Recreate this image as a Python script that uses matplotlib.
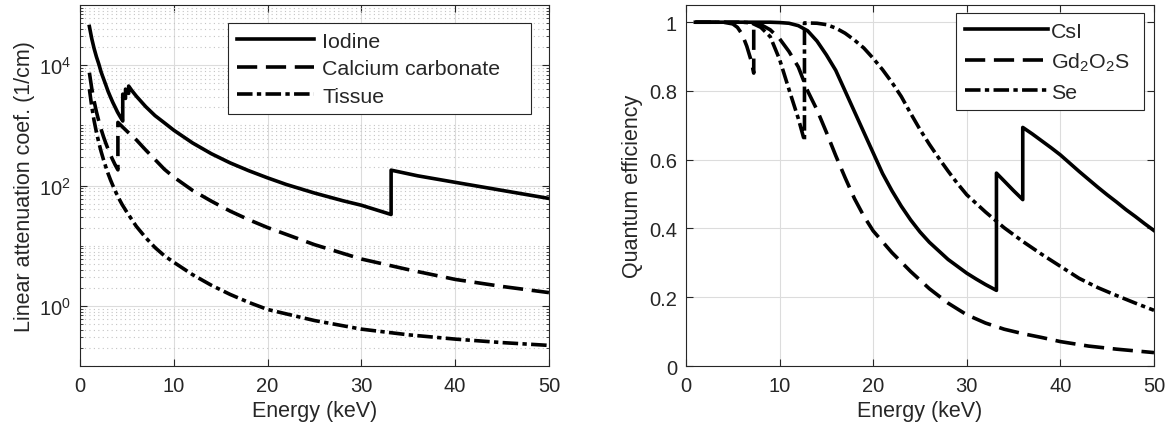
import numpy as np
import matplotlib
matplotlib.use('Agg')
import matplotlib.pyplot as plt
from matplotlib.ticker import FixedLocator, FuncFormatter, NullFormatter

plt.rcParams['font.family'] = ['Liberation Sans', 'DejaVu Sans']
plt.rcParams['mathtext.fontset'] = 'custom'
plt.rcParams['mathtext.rm'] = 'Liberation Sans'
plt.rcParams['mathtext.it'] = 'Liberation Sans'

# ---- left panel: linear attenuation coefficient (1/cm) ----
e_iodine = [1, 1.25, 1.5, 1.75, 2, 2.25, 2.5, 2.75, 3, 3.25, 3.5, 3.75, 4, 4.25,
            4.557, 4.557, 4.852, 4.852, 5.188, 5.188, 5.5, 6, 7, 8, 9, 10, 12,
            14, 16, 18, 20, 22, 25, 28, 30, 33.17, 33.17, 36, 40, 45, 50]
mu_iodine = [44000, 27700, 19000, 13800, 10500, 7700, 6000, 4700, 3650, 2950,
             2400, 2000, 1660, 1420, 1180, 3300, 2800, 4000, 3400, 4500, 3840,
             3060, 2050, 1450, 1100, 830, 510, 338, 238, 176, 134, 104, 75, 56,
             47, 33, 180, 145, 113, 83, 61]

e_caco3 = [1, 1.25, 1.5, 1.75, 2, 2.25, 2.5, 2.75, 3, 3.25, 3.5, 3.75, 4.04,
           4.04, 5, 6, 7, 8, 9, 10, 12, 14, 16, 18, 20, 25, 30, 35, 40, 45, 50]
mu_caco3 = [7500, 4130, 2540, 1680, 1180, 860, 650, 505, 400, 322, 265, 220, 182,
            1120, 800, 575, 390, 270, 186, 138, 83, 55, 37.6, 27, 20, 10.4, 6.0,
            4.0, 2.75, 2.1, 1.66]

e_tissue = [1, 1.25, 1.5, 1.75, 2, 2.25, 2.5, 2.75, 3, 3.25, 3.5, 3.75, 4, 4.5,
            5, 6, 7, 8, 9, 10, 12, 14, 16, 18, 20, 25, 30, 35, 40, 45, 50]
mu_tissue = [4000, 2070, 1200, 770, 520, 367, 270, 204, 157, 124, 100, 82, 67,
             48, 36, 21, 13.6, 9.3, 6.8, 5.3, 3.3, 2.2, 1.55, 1.14, 0.87, 0.57,
             0.41, 0.33, 0.28, 0.245, 0.22]

# ---- right panel: quantum efficiency ----
e_csi = [1, 5, 9, 10, 11, 12, 13, 14, 15, 16, 17, 18, 19, 20, 21, 22, 23, 24,
         25, 26, 27, 28, 29, 30, 31, 32, 33.17, 33.17, 34, 35, 35.98, 35.98,
         37, 38, 39, 40, 41, 42, 43, 44, 45, 46, 47, 48, 49, 50]
qe_csi = [1.0, 1.0, 1.0, 0.999, 0.997, 0.99, 0.975, 0.945, 0.905, 0.86, 0.80,
          0.74, 0.68, 0.62, 0.56, 0.51, 0.465, 0.425, 0.39, 0.36, 0.335, 0.31,
          0.29, 0.27, 0.253, 0.237, 0.22, 0.561, 0.538, 0.51, 0.484, 0.694,
          0.675, 0.655, 0.635, 0.614, 0.59, 0.566, 0.543, 0.52, 0.498, 0.477,
          0.455, 0.435, 0.414, 0.394]

e_gdos = [1, 4, 5, 5.5, 6, 6.5, 7, 7.24, 7.24, 8, 9, 10, 11, 12, 13, 14, 15, 16,
          17, 18, 19, 20, 22, 24, 26, 28, 30, 32, 34, 36, 38, 40, 43, 46, 50]
qe_gdos = [1.0, 1.0, 0.995, 0.985, 0.965, 0.93, 0.885, 0.852, 0.997, 0.993,
           0.978, 0.952, 0.915, 0.87, 0.8, 0.745, 0.68, 0.612, 0.548, 0.487,
           0.436, 0.393, 0.33, 0.275, 0.225, 0.183, 0.149, 0.125, 0.107, 0.094,
           0.083, 0.071, 0.058, 0.049, 0.039]

e_se = [1, 6, 7, 8, 9, 10, 11, 12, 12.66, 12.66, 14, 15, 16, 17, 18, 19, 20, 21,
        22, 23, 24, 25, 26, 27, 28, 29, 30, 32, 34, 36, 38, 40, 42, 44, 46, 48, 50]
qe_se = [1.0, 1.0, 0.998, 0.985, 0.958, 0.892, 0.805, 0.72, 0.655, 0.998, 0.997,
         0.993, 0.983, 0.968, 0.948, 0.925, 0.895, 0.862, 0.825, 0.784, 0.735,
         0.688, 0.645, 0.605, 0.567, 0.531, 0.498, 0.448, 0.402, 0.362, 0.325,
         0.29, 0.255, 0.228, 0.205, 0.183, 0.162]

DARK = '#262626'
LW = 2.6
DASH = (0, (5.6, 2.4))
DASHDOT = (0, (4.3, 1.2, 1.2, 1.2))
TICK_FS = 14.5
LABEL_FS = 15.5
LEG_FS = 15.4


def style_axes(ax):
    for sp in ax.spines.values():
        sp.set_color(DARK)
        sp.set_linewidth(0.8)
    ax.tick_params(which='both', direction='in', top=True, right=True,
                   colors=DARK, labelsize=TICK_FS)
    ax.tick_params(axis='x', pad=7.5)
    ax.tick_params(axis='y', pad=6.5)
    ax.tick_params(which='major', length=5)
    ax.tick_params(which='minor', length=2.5)
    ax.set_axisbelow(True)


def style_legend(leg):
    leg.get_frame().set_edgecolor(DARK)
    leg.get_frame().set_linewidth(0.8)
    for t in leg.get_texts():
        t.set_color(DARK)


fig = plt.figure(figsize=(11.68, 4.27), dpi=100)
ax1 = fig.add_axes([0.0685, 0.1405, 0.4015, 0.8454])
ax2 = fig.add_axes([0.5873, 0.1405, 0.4007, 0.8454])

# left
ax1.plot(e_iodine, mu_iodine, color='black', lw=LW, label='Iodine')
ax1.plot(e_caco3, mu_caco3, color='black', lw=LW, linestyle=DASH, label='Calcium carbonate')
ax1.plot(e_tissue, mu_tissue, color='black', lw=LW, linestyle=DASHDOT, label='Tissue')
ax1.set_yscale('log')
ax1.set_xlim(0, 50)
ax1.set_ylim(0.1, 1e5)
ax1.set_xticks(range(0, 51, 10))
ax1.yaxis.set_major_locator(FixedLocator([1, 1e2, 1e4]))
ax1.yaxis.set_major_formatter(FuncFormatter(
    lambda v, p: r'$\mathregular{10^{%d}}$' % int(round(np.log10(v)))))
minor = [m * 10.0 ** k for k in range(-1, 5) for m in range(1, 10)]
minor = [v for v in minor if v not in (1, 1e2, 1e4)]
ax1.yaxis.set_minor_locator(FixedLocator(minor))
ax1.yaxis.set_minor_formatter(NullFormatter())
ax1.grid(True, which='major', color='#dcdcdc', lw=0.8)
ax1.grid(True, which='minor', axis='y', color='#c4c4c4', lw=0.8, linestyle=(0, (1, 3)))
ax1.set_xlabel('Energy (keV)', fontsize=LABEL_FS, color=DARK, labelpad=3)
ax1.set_ylabel('Linear attenuation coef. (1/cm)', fontsize=LABEL_FS, color=DARK, labelpad=3)
style_axes(ax1)
leg1 = ax1.legend(loc='upper left', bbox_to_anchor=(0.3156, 0.7036, 0.646, 0.2464),
                  mode='expand', fontsize=LEG_FS, handlelength=3.6,
                  handletextpad=0.4, labelspacing=0.4, fancybox=False,
                  framealpha=1, borderpad=0.4, borderaxespad=0)
style_legend(leg1)

# right
ax2.plot(e_csi, qe_csi, color='black', lw=LW, label='CsI')
ax2.plot(e_gdos, qe_gdos, color='black', lw=LW, linestyle=DASH,
         label=r'Gd$_\mathregular{2}$O$_\mathregular{2}$S')
ax2.plot(e_se, qe_se, color='black', lw=LW, linestyle=DASHDOT, label='Se')
ax2.set_xlim(0, 50)
ax2.set_ylim(0, 1.05)
ax2.set_xticks(range(0, 51, 10))
ax2.set_yticks([0, 0.2, 0.4, 0.6, 0.8, 1.0])
ax2.yaxis.set_major_formatter(FuncFormatter(lambda v, p: '%g' % v))
ax2.grid(True, which='major', color='#dcdcdc', lw=0.8)
ax2.set_xlabel('Energy (keV)', fontsize=LABEL_FS, color=DARK, labelpad=3)
ax2.set_ylabel('Quantum efficiency', fontsize=LABEL_FS, color=DARK, labelpad=4)
style_axes(ax2)
leg2 = ax2.legend(loc='upper left', bbox_to_anchor=(0.577, 0.71, 0.4016, 0.268),
                  mode='expand', fontsize=LEG_FS, handlelength=3.9,
                  handletextpad=0.15, labelspacing=0.47, fancybox=False,
                  framealpha=1, borderpad=0.4, borderaxespad=0)
style_legend(leg2)

fig.savefig('out.png', dpi=100)
